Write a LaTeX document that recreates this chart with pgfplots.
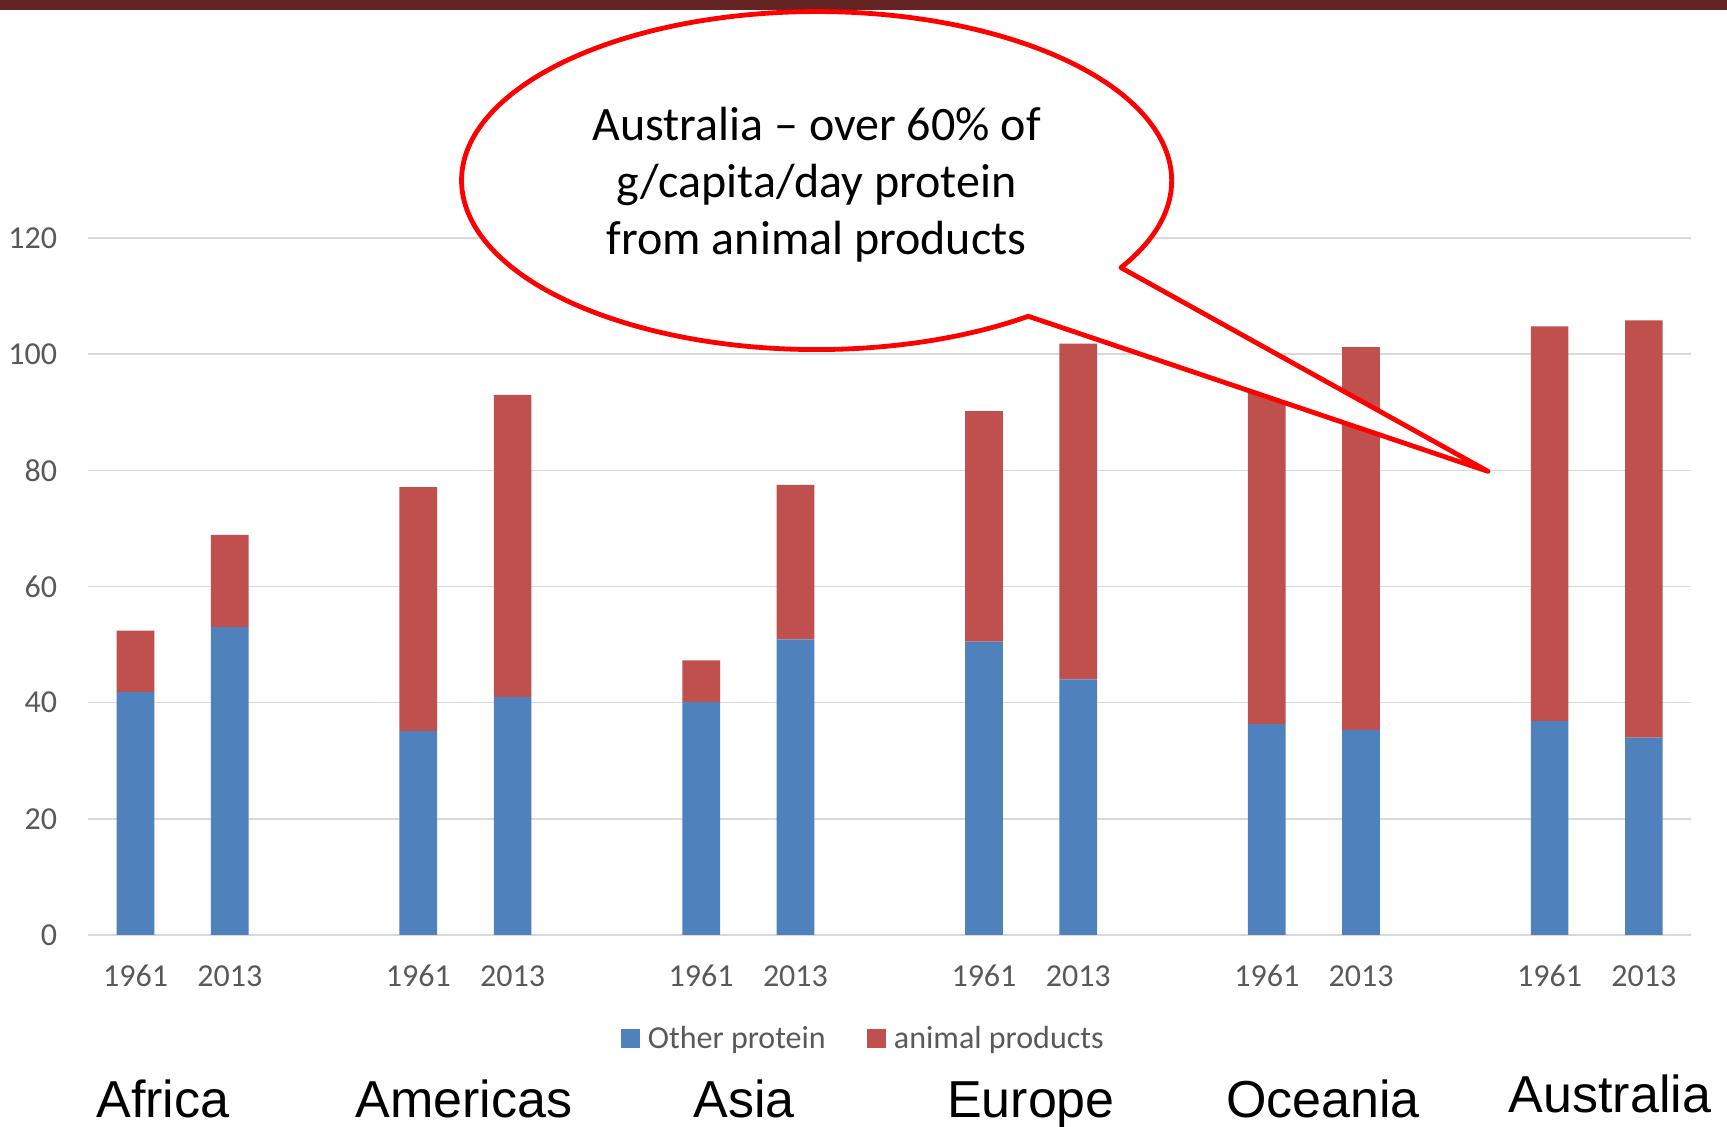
\documentclass[border=0pt]{standalone}
\usepackage{pgfplots}
\usepackage{pgfplotstable}
\pgfplotsset{compat=1.18}
\usepackage{fontspec}
\setmainfont{Carlito}
\newfontfamily\arialfont{Liberation Sans}
\definecolor{barblue}{HTML}{4F81BD}
\definecolor{barred}{HTML}{C0504D}
\definecolor{gridgray}{HTML}{D9D9D9}
\definecolor{ticktext}{HTML}{595959}
\definecolor{topband}{HTML}{632423}

\pgfplotstableread{
x other animal
0 41.8 10.6
1 53.0 15.9
3 35.1 42.0
4 41.0 52.0
6 40.1 7.2
7 50.9 26.6
9 50.5 39.7
10 44.0 57.8
12 36.3 63.5
13 35.3 65.9
15 36.8 68.0
16 34.0 71.8
}\datatable

\begin{document}
\begin{tikzpicture}
\path[use as bounding box] (-44.2pt,-96pt) rectangle (819.3pt,467.5pt);
\fill[white] (-44.2pt,-96pt) rectangle (819.3pt,467.5pt);
\fill[topband] (-44.2pt,462.5pt) rectangle (819.3pt,467.5pt);
\begin{axis}[
  at={(0pt,0pt)}, anchor=south west,
  scale only axis, width=801.3pt, height=348.5pt,
  ybar stacked, bar width=0.4,
  xmin=-0.5, xmax=16.5, ymin=0, ymax=120,
  ytick={0,20,...,120},
  xtick={0,1,3,4,6,7,9,10,12,13,15,16},
  xticklabels={1961,2013,1961,2013,1961,2013,1961,2013,1961,2013,1961,2013},
  axis lines=left, axis line style={draw=none},
  tick style={draw=none}, major tick length=0pt,
  ymajorgrids, grid style={gridgray, line width=0.75pt},
  clip=false,
  /pgf/number format/assume math mode=true,
  tick label style={font=\fontsize{16}{19}\selectfont, text=ticktext},
  yticklabel style={anchor=east, inner sep=0pt, xshift=-15.5pt},
  xticklabel style={anchor=center, inner sep=0pt, yshift=-20.5pt},
  legend style={at={(0.4854,-0.149)}, anchor=center, draw=none, fill=none,
    legend columns=2, font=\fontsize{16}{19}\selectfont, text=ticktext,
    /tikz/every even column/.append style={column sep=17pt},
    nodes={inner sep=3.8pt}},
  legend cell align=left,
  legend image code/.code={\draw[#1, draw=none] (0pt,-4.75pt) rectangle (9.5pt,4.75pt);},
]
\addplot[fill=barblue, draw=none] table[x=x, y=other] {\datatable};
\addplot[fill=barred, draw=none] table[x=x, y=animal] {\datatable};
\legend{Other protein, animal products}
\end{axis}
\draw[red, line width=2.4pt, fill=white, line join=round]
  (364.1pt,377.2pt) ++(-31.0:177.5pt and 84.5pt)
  arc[start angle=-31.0, end angle=306.6, x radius=177.5pt, y radius=84.5pt]
  -- (699.8pt,231.8pt) -- cycle;
\node[align=center, font=\fontsize{24}{28.5}\selectfont, text=black, inner sep=0pt]
  at (364.1pt,375pt) {Australia – over 60\% of\\g/capita/day protein\\from animal products};
\node[anchor=base, font=\arialfont\fontsize{26}{30}\selectfont] at (37.3pt,-91.5pt) {Africa};
\node[anchor=base, font=\arialfont\fontsize{26}{30}\selectfont] at (187.8pt,-91.5pt) {Americas};
\node[anchor=base, font=\arialfont\fontsize{26}{30}\selectfont] at (327.8pt,-91.5pt) {Asia};
\node[anchor=base, font=\arialfont\fontsize{26}{30}\selectfont] at (471.3pt,-91.5pt) {Europe};
\node[anchor=base, font=\arialfont\fontsize{26}{30}\selectfont] at (617.3pt,-91.5pt) {Oceania};
\node[anchor=base, font=\arialfont\fontsize{26}{30}\selectfont] at (760.8pt,-89pt) {Australia};
\end{tikzpicture}
\end{document}
